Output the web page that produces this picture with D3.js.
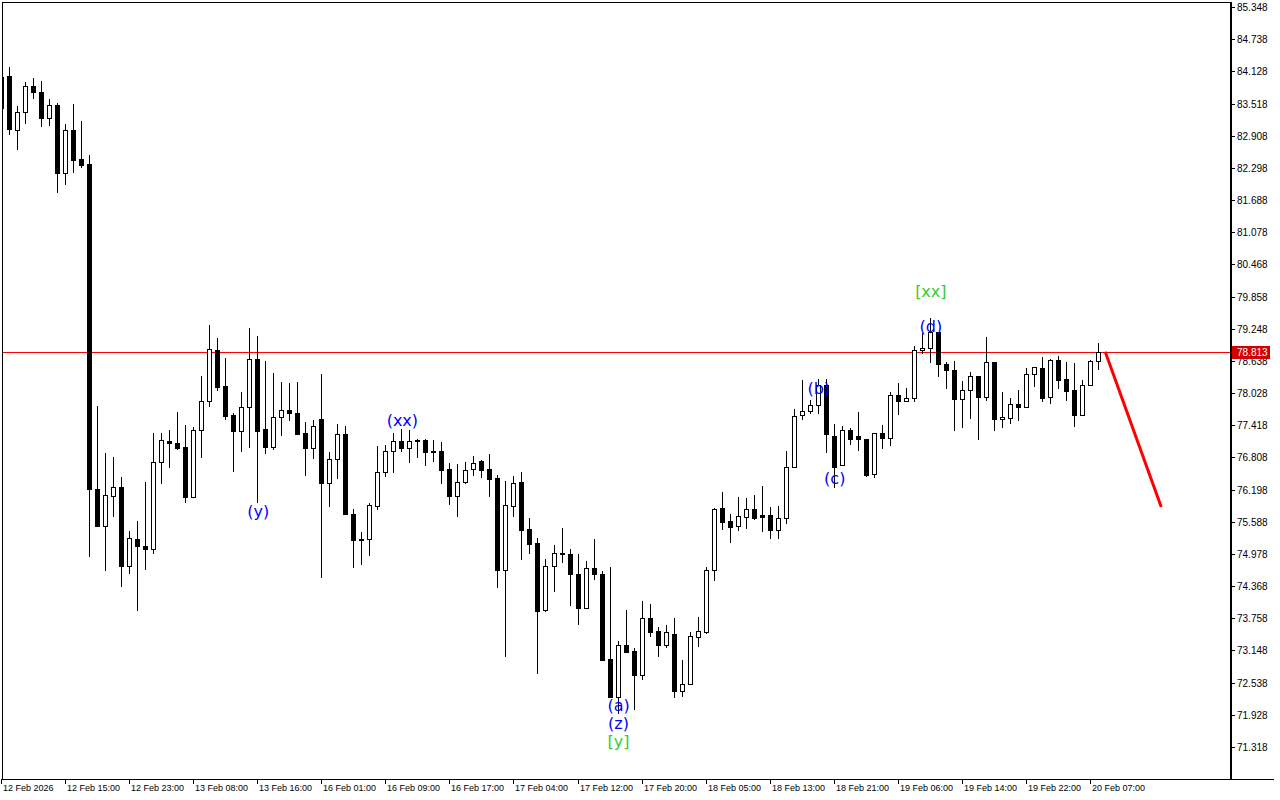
<!DOCTYPE html>
<html><head><meta charset="utf-8">
<script src="https://cdn.jsdelivr.net/npm/d3@7"></script>
<style>body{margin:0;background:#fff}svg{display:block}</style>
</head><body><svg id="c" width="1280" height="800"></svg>
<script>
// ---- data (hourly bars) ----
const opens = [83.429,84.038,83.024,83.348,83.849,83.735,83.240,83.483,82.210,83.009,
82.468,82.374,76.217,75.506,76.083,76.246,74.742,75.256,75.134,75.066,
76.716,77.120,77.076,77.006,76.064,77.323,77.872,78.839,78.157,77.607,
77.304,77.759,78.669,77.347,77.012,77.569,77.702,77.645,77.266,76.981,
77.531,76.318,76.773,77.252,75.741,75.262,75.256,75.893,76.526,76.930,
77.120,76.981,77.139,77.133,76.924,76.924,76.583,76.083,76.337,76.583,
76.740,76.583,76.413,74.679,75.893,76.342,75.445,75.180,73.921,74.744,
74.996,74.971,74.592,73.959,74.706,74.592,72.986,72.261,73.252,73.138,
72.689,73.764,73.517,73.257,73.460,72.385,72.507,73.409,73.504,74.668,
75.849,75.603,75.502,75.685,75.825,75.717,75.711,75.427,75.654,76.621,
77.607,77.683,77.797,78.176,77.214,76.659,77.323,77.214,77.152,76.488,
77.266,77.171,77.986,77.872,77.929,78.839,78.877,79.181,78.574,78.466,
77.921,78.081,78.346,77.960,78.612,77.531,77.561,77.815,77.770,78.384,
78.498,77.948,78.650,78.290,78.081,77.618,78.176,78.631];
const highs = [84.154,84.209,83.464,83.924,84.004,83.938,83.598,83.530,83.138,83.511,
83.193,82.535,77.789,76.894,76.814,76.435,75.406,75.609,76.337,77.266,
77.266,77.328,77.670,77.423,77.391,78.352,79.319,79.067,78.688,77.645,
78.049,79.256,79.110,78.642,78.415,78.238,78.214,78.238,77.480,77.512,
78.390,76.911,77.442,77.404,75.825,75.400,75.938,77.025,77.044,77.271,
77.347,77.328,77.152,77.152,77.133,77.101,76.703,76.678,76.722,76.835,
76.759,76.873,76.469,76.361,76.456,76.532,75.660,75.281,74.877,75.142,
75.464,75.066,74.977,74.844,75.262,74.655,74.725,73.322,73.915,73.189,
74.086,74.029,73.593,73.631,73.764,72.967,73.504,73.783,74.731,75.849,
76.153,75.736,76.058,76.039,76.096,76.266,75.868,75.887,76.930,77.721,
78.276,77.897,78.301,78.301,77.442,77.410,77.360,77.670,77.163,77.266,
77.417,78.043,78.214,78.119,78.921,79.162,79.446,79.192,78.623,78.636,
78.257,78.422,78.346,79.091,78.612,78.043,77.929,78.081,78.498,78.517,
78.707,78.669,78.726,78.612,78.593,78.270,78.650,78.978];
const lows = [83.357,82.942,82.663,83.158,83.632,83.090,83.111,81.839,81.994,82.224,
82.313,74.932,75.506,74.674,75.703,74.376,74.619,73.915,74.687,75.002,
76.318,76.632,76.962,75.969,76.064,76.822,77.789,78.087,77.542,76.557,
76.936,77.012,75.957,76.898,76.974,77.239,77.518,77.258,76.475,76.803,
74.547,75.893,76.412,75.741,74.736,74.788,74.964,75.825,76.462,76.538,
76.936,76.727,76.811,76.670,76.746,76.318,75.931,75.703,76.318,76.481,
76.437,76.083,74.357,73.049,75.703,74.888,74.996,72.727,73.902,74.281,
74.831,74.016,73.656,73.948,74.497,72.967,72.272,71.957,73.125,72.044,
72.607,73.428,73.049,73.220,72.272,72.285,72.507,73.233,73.485,74.484,
75.457,75.210,75.432,75.476,75.646,75.419,75.286,75.286,75.571,76.621,
77.531,77.645,77.656,76.917,76.253,76.659,77.057,76.949,76.462,76.443,
76.993,77.038,77.637,77.872,77.884,78.782,78.623,78.358,78.119,77.334,
77.391,77.561,77.163,77.903,77.334,77.391,77.467,77.523,77.759,78.168,
77.884,77.846,78.130,77.903,77.410,77.618,78.176,78.490];
const closes = [84.019,83.043,83.348,83.849,83.735,83.240,83.483,82.210,83.009,82.447,
82.360,76.217,75.506,76.096,76.246,74.755,75.282,75.134,75.066,76.716,
77.133,77.076,76.993,76.064,77.323,77.872,78.858,78.149,77.599,77.315,
77.759,78.669,77.315,77.012,77.569,77.702,77.645,77.258,76.981,77.398,
76.318,76.773,77.252,75.741,75.243,75.248,75.900,76.526,76.930,77.114,
76.981,77.114,77.114,76.905,76.911,76.576,76.083,76.337,76.564,76.703,
76.576,76.405,74.679,75.900,76.318,75.438,75.172,73.902,74.744,74.990,
74.971,74.592,73.959,74.706,74.592,72.967,72.272,73.252,73.125,72.689,
73.764,73.504,73.257,73.493,72.385,72.507,73.422,73.511,74.674,75.825,
75.590,75.495,75.698,75.825,75.665,75.685,75.427,75.654,76.621,77.599,
77.683,77.802,78.176,77.247,76.632,77.323,77.152,77.152,76.481,77.266,
77.171,77.986,77.872,77.929,78.839,78.877,79.192,78.574,78.460,77.921,
78.081,78.346,77.960,78.612,77.542,77.569,77.815,77.770,78.384,78.517,
77.941,78.650,78.282,78.073,77.618,78.176,78.631,78.813];

const timeTickIndex = [0,8,16,24,32,40,48,56,64,72,80,88,96,104,112,120,128,136];
const timeTickLabels = ["12 Feb 2026","12 Feb 15:00","12 Feb 23:00","13 Feb 08:00","13 Feb 16:00",
"16 Feb 01:00","16 Feb 09:00","16 Feb 17:00","17 Feb 04:00","17 Feb 12:00","17 Feb 20:00",
"18 Feb 05:00","18 Feb 13:00","18 Feb 21:00","19 Feb 06:00","19 Feb 14:00","19 Feb 22:00","20 Feb 07:00"];
const priceTicks = [85.348,84.738,84.128,83.518,82.908,82.298,81.688,81.078,80.468,79.858,79.248,78.638,
78.028,77.418,76.808,76.198,75.588,74.978,74.368,73.758,73.148,72.538,71.928,71.318];
const lastPrice = 78.813;

const waveText  = ["(y)","(xx)","(a)","(z)","[y]","(b)","(c)","(d)","[xx]"];
const waveIndex = [32,50,77,77,77,102,104,116,116];
const wavePrice = [75.792,77.499,72.114,71.773,71.413,78.106,76.418,79.281,79.945];
const waveColor = ["#0000ff","#0000ff","#0000ff","#0000ff","#32cd32","#0000ff","#0000ff","#0000ff","#32cd32"];

const arrowIndex = [137.9,144.9];
const arrowPrice = [78.813,75.868];

// ---- layout ----
const W=1280,H=800, L=2, T=2, R=1230, B=779;
const svg=d3.select("#c");
svg.append("rect").attr("width",W).attr("height",H).attr("fill","#fff");
const x=d3.scaleLinear().domain([0,137]).range([1,1098]);
const y=d3.scaleLinear().domain([71.318,85.348]).range([747,7]);

svg.append("clipPath").attr("id","clip").append("rect")
  .attr("x",L+1).attr("y",T+1).attr("width",R-L-1).attr("height",B-T-1);
const g=svg.append("g").attr("clip-path","url(#clip)");

const idx=d3.range(opens.length);
const X=i=>Math.round(x(i));
const Y=v=>Math.round(y(v));

// red price line
g.append("line").attr("x1",L).attr("x2",R).attr("y1",Y(lastPrice)+0.5).attr("y2",Y(lastPrice)+0.5)
  .attr("stroke","#ff0000").attr("stroke-width",1);

// wicks
g.selectAll("line.w").data(idx).join("line").attr("class","w")
  .attr("x1",i=>X(i)+0.5).attr("x2",i=>X(i)+0.5)
  .attr("y1",i=>Y(highs[i])).attr("y2",i=>Y(lows[i])+1)
  .attr("stroke","#000").attr("stroke-width",1).attr("shape-rendering","crispEdges");

// bodies
g.selectAll("rect.b").data(idx).join("rect").attr("class","b")
  .each(function(i){
    const o=opens[i], c=closes[i], s=d3.select(this);
    const top=Y(Math.max(o,c)), bot=Y(Math.min(o,c));
    if(c>=o && bot-top>=2){
      s.attr("x",X(i)-1.5).attr("y",top+0.5).attr("width",4).attr("height",bot-top)
       .attr("fill","#fff").attr("stroke","#000").attr("stroke-width",1);
    } else {
      s.attr("x",X(i)-2).attr("y",top).attr("width",5).attr("height",Math.max(1,bot-top+1))
       .attr("fill","#000").attr("shape-rendering","crispEdges");
    }
  });

// forecast arrow
g.append("line").attr("x1",x(arrowIndex[0])).attr("y1",y(arrowPrice[0]))
  .attr("x2",x(arrowIndex[1])).attr("y2",y(arrowPrice[1]))
  .attr("stroke","#ff0000").attr("stroke-width",3);

// wave labels
g.selectAll("text.wl").data(d3.range(waveText.length)).join("text").attr("class","wl")
  .attr("x",i=>x(waveIndex[i])+1).attr("y",i=>y(wavePrice[i]))
  .attr("text-anchor","middle").attr("dominant-baseline","central")
  .attr("font-family","DejaVu Sans, Verdana, sans-serif").attr("font-size",16)
  .attr("fill",i=>waveColor[i]).text(i=>waveText[i]);

// frame
const fr=svg.append("g").attr("shape-rendering","crispEdges");
fr.append("line").attr("x1",L).attr("x2",R+1).attr("y1",T+0.5).attr("y2",T+0.5).attr("stroke","#000");
fr.append("line").attr("x1",L+0.5).attr("x2",L+0.5).attr("y1",T).attr("y2",B+1).attr("stroke","#000");
fr.append("line").attr("x1",L).attr("x2",1274).attr("y1",B+0.5).attr("y2",B+0.5).attr("stroke","#000");
fr.append("line").attr("x1",R+1).attr("x2",R+1).attr("y1",T).attr("y2",B+1).attr("stroke","#000").attr("stroke-width",2);

// price axis
const pa=svg.append("g");
pa.selectAll("line").data(priceTicks).join("line")
  .attr("x1",R+1).attr("x2",R+5).attr("y1",d=>Y(d)+0.5).attr("y2",d=>Y(d)+0.5)
  .attr("stroke","#000").attr("shape-rendering","crispEdges");
pa.selectAll("text").data(priceTicks).join("text")
  .attr("x",R+7).attr("y",d=>Y(d)+0.5).attr("dominant-baseline","central")
  .attr("font-family","Liberation Sans, Arial, sans-serif").attr("font-size",10).attr("fill","#000")
  .text(d=>d.toFixed(3));

// last price box
const lp=svg.append("g");
lp.append("rect").attr("x",R+2).attr("y",Y(lastPrice)-6).attr("width",38).attr("height",13).attr("fill","#d40000");
lp.append("text").attr("x",R+7).attr("y",Y(lastPrice)+0.5).attr("dominant-baseline","central")
  .attr("font-family","Liberation Sans, Arial, sans-serif").attr("font-size",10).attr("fill","#fff")
  .text(lastPrice.toFixed(3));

// time axis
const ta=svg.append("g");
ta.selectAll("line").data(timeTickIndex).join("line")
  .attr("x1",i=>X(i)+0.5).attr("x2",i=>X(i)+0.5).attr("y1",B).attr("y2",B+5)
  .attr("stroke","#000").attr("shape-rendering","crispEdges");
ta.selectAll("text").data(timeTickIndex).join("text")
  .attr("x",i=>X(i)+2).attr("y",B+9).attr("dominant-baseline","central")
  .attr("font-family","Liberation Sans, Arial, sans-serif").attr("font-size",9).attr("fill","#000")
  .text((d,j)=>timeTickLabels[j]);
</script></body></html>
